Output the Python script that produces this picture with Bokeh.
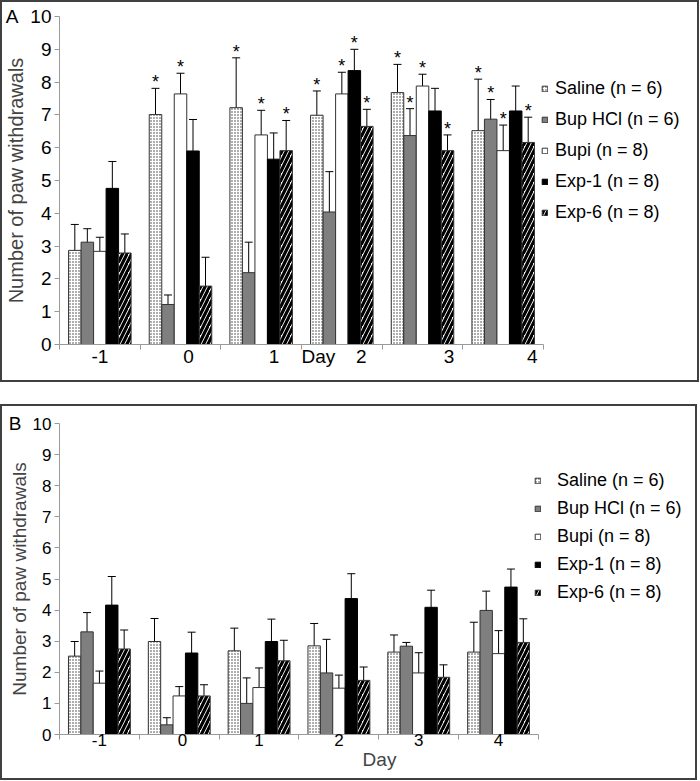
from bokeh.plotting import figure
from bokeh.models import (ColumnDataSource, FixedTicker, Whisker, TeeHead, Legend,
                          LegendItem, Range1d, LinearAxis)
from bokeh.layouts import column
from bokeh.transform import dodge
from bokeh.embed import file_html
from bokeh.resources import INLINE
from bokeh.core.properties import value

# ---------------- data ----------------
days = ["-1", "0", "1", "2", "3", "4"]
groups = ["Saline (n = 6)", "Bup HCl (n = 6)", "Bupi (n = 8)", "Exp-1 (n = 8)", "Exp-6 (n = 8)"]
y_ticks = [0, 1, 2, 3, 4, 5, 6, 7, 8, 9, 10]

# Panel A: means
a_saline = [2.87, 7.01, 7.22, 6.99, 7.68, 6.52]
a_buphcl = [3.12, 1.22, 2.19, 4.04, 6.37, 6.87]
a_bupi   = [2.84, 7.64, 6.39, 7.64, 7.88, 5.91]
a_exp1   = [4.76, 5.90, 5.65, 8.35, 7.12, 7.12]
a_exp6   = [2.79, 1.78, 5.91, 6.65, 5.91, 6.16]
# Panel A: standard errors
a_saline_se = [0.79, 0.80, 1.52, 0.74, 0.86, 1.57]
a_buphcl_se = [0.41, 0.29, 0.93, 1.23, 0.82, 0.60]
a_bupi_se   = [0.43, 0.63, 0.75, 0.66, 0.36, 0.78]
a_exp1_se   = [0.82, 0.96, 0.80, 0.65, 0.69, 0.76]
a_exp6_se   = [0.58, 0.88, 0.92, 0.52, 0.48, 0.77]
# Panel A: significance markers (*)
a_saline_sig = [0, 1, 1, 1, 1, 1]
a_buphcl_sig = [0, 0, 0, 0, 1, 1]
a_bupi_sig   = [0, 1, 1, 1, 1, 1]
a_exp1_sig   = [0, 0, 0, 1, 0, 0]
a_exp6_sig   = [0, 0, 1, 1, 1, 1]

# Panel B: means
b_saline = [2.52, 2.99, 2.69, 2.85, 2.65, 2.65]
b_buphcl = [3.30, 0.31, 1.00, 1.98, 2.84, 3.99]
b_bupi   = [1.65, 1.24, 1.51, 1.49, 1.98, 2.60]
b_exp1   = [4.16, 2.62, 2.99, 4.37, 4.09, 4.74]
b_exp6   = [2.75, 1.24, 2.37, 1.74, 1.84, 2.96]
# Panel B: standard errors
b_saline_se = [0.47, 0.74, 0.73, 0.72, 0.55, 0.96]
b_buphcl_se = [0.62, 0.23, 0.82, 1.08, 0.12, 0.62]
b_bupi_se   = [0.39, 0.30, 0.63, 0.42, 0.65, 0.74]
b_exp1_se   = [0.92, 0.67, 0.72, 0.80, 0.55, 0.58]
b_exp6_se   = [0.61, 0.36, 0.66, 0.43, 0.40, 0.76]
b_saline_sig = [0, 0, 0, 0, 0, 0]
b_buphcl_sig = [0, 0, 0, 0, 0, 0]
b_bupi_sig   = [0, 0, 0, 0, 0, 0]
b_exp1_sig   = [0, 0, 0, 0, 0, 0]
b_exp6_sig   = [0, 0, 0, 0, 0, 0]

# ---------------- styles ----------------
FONT = "Liberation Sans"
BAR_W = 0.155
bar_styles = [
    dict(fill_color="white", hatch_pattern="dot", hatch_color="#333333", hatch_scale=3,
         hatch_weight=1, line_color="#333333"),
    dict(fill_color="#7f7f7f", line_color="#333333"),
    dict(fill_color="white", line_color="#333333"),
    dict(fill_color="black", line_color="black"),
    dict(fill_color="white", hatch_pattern="right_diagonal_line", hatch_color="black",
         hatch_scale=9, hatch_weight=3.2, line_color="#333333"),
]


def make_panel(letter, means, ses, sigs, cfg):
    n = len(days)
    # the frame also hosts the legend area to the right of the day axis
    x_max = n * cfg["frame_w"] / cfg["axis_px"]
    p = figure(frame_width=cfg["frame_w"], frame_height=cfg["frame_h"],
               output_backend="svg", toolbar_location=None,
               x_range=Range1d(0, x_max), y_range=Range1d(0, 10),
               min_border_left=cfg["mbl"], min_border_right=2,
               min_border_top=cfg["mbt"], min_border_bottom=cfg["mbb"])
    p.styles = {"border": "2px solid #404040"}
    p.outline_line_color = None
    p.xgrid.visible = False
    p.ygrid.visible = False
    p.background_fill_color = "white"
    p.border_fill_color = "white"

    centers = [i + 0.5 for i in range(n)]
    items = []
    for k, (g, m, s, sg) in enumerate(zip(groups, means, ses, sigs)):
        src = ColumnDataSource(dict(
            x=centers, top=m,
            upper=[a + b for a, b in zip(m, s)],
            lower=[a - b for a, b in zip(m, s)],
            star=["*" if f else "" for f in sg],
        ))
        off = (k - 2) * BAR_W
        r = p.vbar(x=dodge("x", off), top="top", bottom=0, width=BAR_W, source=src,
                   line_width=1, **bar_styles[k])
        items.append(LegendItem(label=g, renderers=[r]))
        w = Whisker(base=dodge("x", off), upper="upper", lower="lower", source=src,
                    dimension="height", line_color="black", line_width=1,
                    upper_head=TeeHead(size=8, line_color="black", line_width=1),
                    lower_head=TeeHead(size=8, line_color="black", line_width=1))
        p.add_layout(w)
        p.text(x=dodge("x", off), y="upper", text="star", source=src,
               text_align="center", text_baseline="bottom", y_offset=4,
               text_font=value(FONT), text_font_size="18px", text_color="black")

    # y axis
    ya = p.yaxis[0]
    ya.ticker = FixedTicker(ticks=y_ticks)
    ya.axis_label = "Number of paw withdrawals"
    ya.axis_label_text_font = FONT
    ya.axis_label_text_font_style = "normal"
    ya.axis_label_text_font_size = cfg["ylab_size"]
    ya.axis_label_standoff = 0
    ya.major_label_text_font = FONT
    ya.major_label_text_font_size = cfg["tick_size"]
    ya.major_label_text_color = "black"
    ya.major_label_standoff = 3
    ya.axis_line_color = "#9a9a9a"
    ya.major_tick_line_color = "#9a9a9a"
    ya.major_tick_out = 5
    ya.major_tick_in = 0
    ya.minor_tick_line_color = None

    # panel letter, shown as an outer left axis label at the top of the frame
    la = LinearAxis(ticker=FixedTicker(ticks=[y_ticks[-1]]),
                    major_label_overrides={y_ticks[-1]: letter},
                    axis_line_color=None, major_tick_line_color=None,
                    minor_tick_line_color=None, major_tick_out=0, major_tick_in=0,
                    major_label_standoff=cfg["letter_standoff"],
                    major_label_text_font=FONT, major_label_text_font_size="19px",
                    major_label_text_color="black")
    p.add_layout(la, "left")

    # x axis: boundaries as minor ticks, day labels as major ticks
    label_pos = [round(c + sh, 3) for c, sh in zip(centers, cfg["label_shift"])]
    overrides = {pos: d for pos, d in zip(label_pos, days)}
    ticks = list(label_pos)
    if cfg["day_x"] is not None:
        ticks.append(cfg["day_x"])
        overrides[cfg["day_x"]] = "Day"
    xa = p.xaxis[0]
    xa.bounds = (0, n)
    xa.ticker = FixedTicker(ticks=ticks, minor_ticks=list(range(n + 1)))
    xa.major_label_overrides = overrides
    xa.major_label_text_font = FONT
    xa.major_label_text_font_size = cfg["tick_size"]
    xa.major_label_text_color = "black"
    xa.major_label_standoff = cfg["xstand"]
    xa.major_tick_line_color = None
    xa.major_tick_out = 0
    xa.major_tick_in = 0
    xa.minor_tick_line_color = "#9a9a9a"
    xa.minor_tick_out = 5
    xa.minor_tick_in = 0
    xa.axis_line_color = "#9a9a9a"
    if cfg["day_x"] is None:
        xa.axis_label = "Day"
        xa.axis_label_text_font = FONT
        xa.axis_label_text_font_style = "normal"
        xa.axis_label_text_font_size = cfg["ylab_size"]
        xa.axis_label_standoff = 0

    leg = Legend(items=items, location=cfg["leg_loc"], orientation="vertical",
                 label_text_font=FONT, label_text_font_size="18px",
                 label_text_color="black", glyph_width=7, glyph_height=7,
                 label_standoff=cfg["leg_standoff"], label_height=20,
                 spacing=cfg["leg_spacing"], padding=0, margin=0,
                 border_line_color=None, background_fill_alpha=0)
    p.add_layout(leg)
    return p


cfgA = dict(frame_w=636, frame_h=324, axis_px=481, mbl=55, mbt=14, mbb=40,
            tick_size="19px", ylab_size="20px", xstand=-4, letter_standoff=-16,
            label_shift=[0.0, 0.1, 0.16, 0.24, 0.33, 0.36], day_x=3.21,
            leg_loc=(482, 121), leg_standoff=7, leg_spacing=10)
cfgB = dict(frame_w=636, frame_h=307, axis_px=476, mbl=55, mbt=17, mbb=48,
            tick_size="17px", ylab_size="19px", xstand=-6, letter_standoff=-16,
            label_shift=[0, 0.04, 0, 0, 0, 0], day_x=None,
            leg_loc=(475, 131), leg_standoff=16, leg_spacing=7)

pA = make_panel("A",
                [a_saline, a_buphcl, a_bupi, a_exp1, a_exp6],
                [a_saline_se, a_buphcl_se, a_bupi_se, a_exp1_se, a_exp6_se],
                [a_saline_sig, a_buphcl_sig, a_bupi_sig, a_exp1_sig, a_exp6_sig], cfgA)
pB = make_panel("B",
                [b_saline, b_buphcl, b_bupi, b_exp1, b_exp6],
                [b_saline_se, b_buphcl_se, b_bupi_se, b_exp1_se, b_exp6_se],
                [b_saline_sig, b_buphcl_sig, b_bupi_sig, b_exp1_sig, b_exp6_sig], cfgB)

layout = column(pA, pB, spacing=22)
open("out.html", "w").write(file_html(layout, INLINE))
